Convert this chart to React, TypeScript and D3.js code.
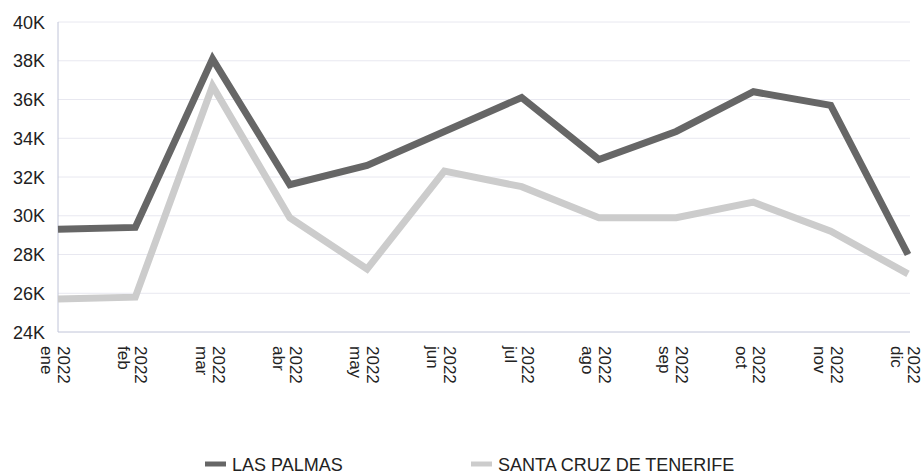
import * as d3 from "d3";
import { useEffect, useRef } from "react";

const months = ["ene", "feb", "mar", "abr", "may", "jun", "jul", "ago", "sep", "oct", "nov", "dic"];
const year = "2022";
const lasPalmas = [29300, 29400, 38100, 31600, 32600, 34350, 36100, 32900, 34350, 36400, 35700, 28000];
const santaCruz = [25700, 25800, 36700, 29900, 27250, 32300, 31500, 29900, 29900, 30700, 29200, 27000];
const yTicks = [24000, 26000, 28000, 30000, 32000, 34000, 36000, 38000, 40000];
const seriesNames = ["LAS PALMAS", "SANTA CRUZ DE TENERIFE"];
const seriesColors = ["#666666", "#cccccc"];

function App() {
    const svgRef = useRef<SVGSVGElement>(null);

    useEffect(() => {
        const svg = d3.select(svgRef.current);
        svg.selectAll("*").remove();
        const font = "'Liberation Sans', Arial, sans-serif";

        const xScale = d3.scalePoint<string>().domain(months).range([58, 908]);
        const yScale = d3.scaleLinear().domain([24000, 40000]).range([332, 22]);

        // grid
        svg.append("g")
            .selectAll("line")
            .data(yTicks.slice(1))
            .join("line")
            .attr("x1", 58)
            .attr("x2", 910)
            .attr("y1", (d) => yScale(d))
            .attr("y2", (d) => yScale(d))
            .attr("stroke", "#e8e8f0")
            .attr("stroke-width", 1);

        // y labels
        svg.append("g")
            .selectAll("text")
            .data(yTicks)
            .join("text")
            .attr("x", 45)
            .attr("y", (d) => yScale(d) + 6.5)
            .attr("text-anchor", "end")
            .attr("font-family", font)
            .attr("font-size", 18)
            .attr("fill", "#222")
            .text((d) => d / 1000 + "K");

        // axes lines
        svg.append("line")
            .attr("x1", 58).attr("x2", 58)
            .attr("y1", yScale(40000)).attr("y2", yScale(24000))
            .attr("stroke", "#c0c4d8");
        svg.append("line")
            .attr("x1", 58).attr("x2", 910)
            .attr("y1", yScale(24000)).attr("y2", yScale(24000))
            .attr("stroke", "#c0c4d8");

        // x labels, rotated
        const xl = svg.append("g")
            .selectAll("text")
            .data(months)
            .join("text")
            .attr("transform", (d) => `translate(${xScale(d)},346) rotate(90)`)
            .attr("font-family", font)
            .attr("font-size", 17)
            .attr("fill", "#222");
        xl.append("tspan").attr("x", 0).attr("y", 0).text(year);
        xl.append("tspan").attr("x", 0).attr("y", 17).text((d) => d);

        const myLine = d3.line<number>()
            .x((v, i) => xScale(months[i]) as number)
            .y((v) => yScale(v));

        svg.append("g")
            .selectAll("path")
            .data([lasPalmas, santaCruz])
            .join("path")
            .attr("d", (v) => myLine(v))
            .attr("fill", "none")
            .attr("stroke", (v, i) => seriesColors[i])
            .attr("stroke-width", 7)
            .attr("stroke-linejoin", "miter");

        // legend
        const legendX = [205, 471];
        const leg = svg.append("g")
            .selectAll("g")
            .data(seriesNames)
            .join("g")
            .attr("transform", (d, i) => `translate(${legendX[i]},464)`);
        leg.append("line")
            .attr("x1", 0).attr("x2", 21)
            .attr("y1", 0).attr("y2", 0)
            .attr("stroke", (d, i) => seriesColors[i])
            .attr("stroke-width", 5);
        leg.append("text")
            .attr("x", 27)
            .attr("y", 6.5)
            .attr("font-family", font)
            .attr("font-size", 18)
            .attr("fill", "#222")
            .text((d) => d);
    }, []);

    return (
        <svg ref={svgRef} width={922} height={473}
            style={{ position: "absolute", left: 0, top: 0, background: "#fff" }} />
    );
}

export default App;
